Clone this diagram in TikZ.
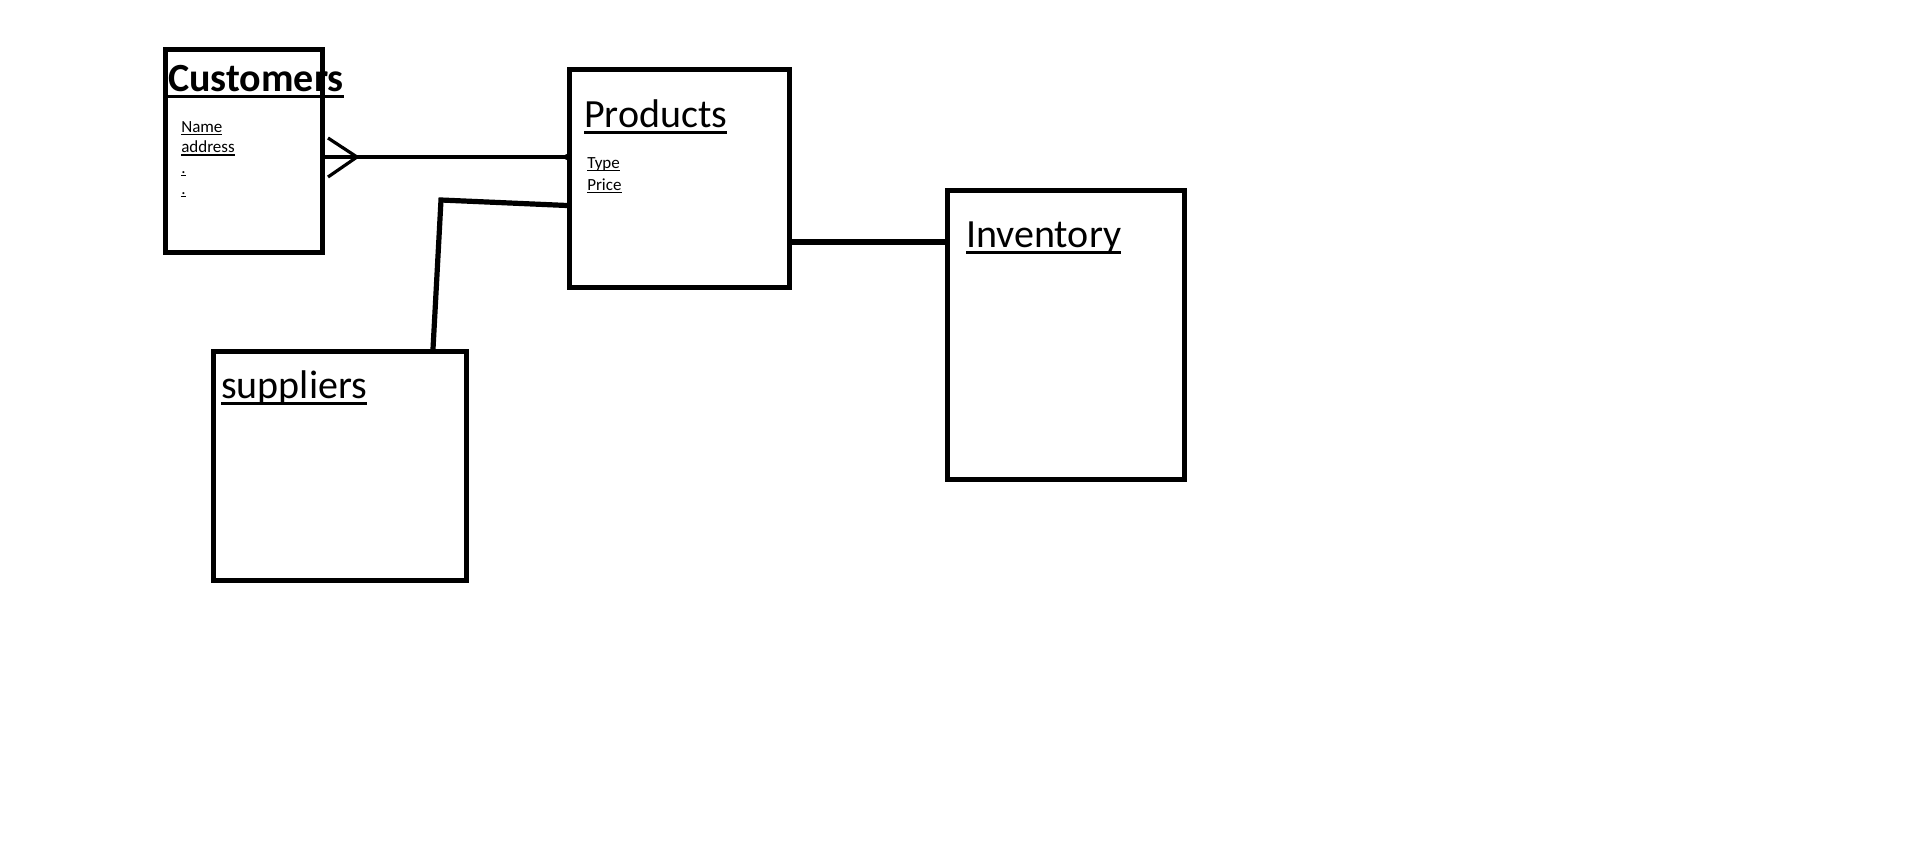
\documentclass[tikz,border=0pt]{standalone}
\usepackage{fontspec}
\setmainfont{Carlito}
\usetikzlibrary{calc}

% underlined text with the rule drawn at a fixed offset
\newcommand\ultext[1]{\setbox0\hbox{#1}\rlap{\rule[-0.18em]{\wd0}{0.085em}}\box0}

\begin{document}
\begin{tikzpicture}[
  x=0.75pt, y=-0.75pt,
  entity/.style={rectangle, draw, line width=3.75pt, inner sep=0pt},
  title/.style={anchor=base west, inner sep=0pt, font=\fontsize{30}{36}\selectfont},
  attr/.style={anchor=base west, inner sep=0pt, font=\fontsize{12.75}{15}\selectfont},
  rel/.style={line width=3.9pt},
  thinrel/.style={line width=2.4pt}
]
\useasboundingbox (0,0) rectangle (1914,843);

% ===== Entities =====
\node[entity, minimum width=117.75pt, minimum height=152.25pt] (cust) at (244,151) {};
\node[entity, minimum width=165pt, minimum height=163.5pt]     (prod) at (679.5,178.5) {};
\node[entity, minimum width=177.75pt, minimum height=216.75pt] (inv)  at (1066,335) {};
\node[entity, minimum width=189.75pt, minimum height=171.75pt] (sup)  at (340,466) {};

% ===== Titles =====
\node[title, font=\fontsize{30}{36}\selectfont\bfseries] (custtitle) at (168,91) {\ultext{Customers}};
\node[title] (prodtitle) at (584,127) {\ultext{Products}};
\node[title] (invtitle)  at (966,247) {\ultext{Inventory}};
\node[title] (suptitle)  at (221,398) {\ultext{suppliers}};

% ===== Attributes =====
\foreach \t [count=\i] in {Name,address,.,.}
  \node[attr] (cattr\i) at (181,{132+20.7*(\i-1)}) {\ultext{\t}};
\node[attr] (ptype)  at (587,168) {\ultext{Type}};
\node[attr] (pprice) at (587,190) {\ultext{Price}};

% ===== Relations =====
\coordinate (crow) at (357,157);
\draw[thinrel] (cust.east |- crow) -- (prod.west |- crow);
\draw[thinrel] (crow) -- ++(-29,-19);
\draw[thinrel] (crow) -- ++(-29,20);
\fill (prod.west |- crow) circle (3);

\coordinate (sbend) at (441,200);
\draw[rel] (sup.north -| 433,0) -- (sbend) -- (prod.west |- 0,205.5);

\draw[rel] (prod.east |- 0,242) -- (inv.west |- 0,242);

\end{tikzpicture}
\end{document}
